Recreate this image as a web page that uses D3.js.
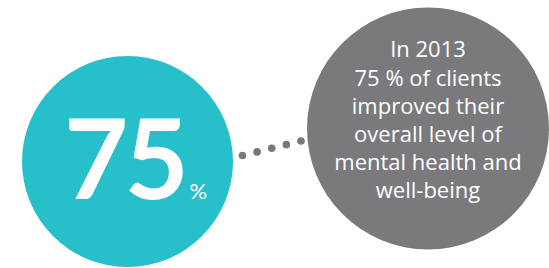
<!DOCTYPE html>
<html>
<head>
<meta charset="utf-8">
<script src="https://cdn.jsdelivr.net/npm/d3@7"></script>
<style>
  html, body { margin: 0; padding: 0; background: #ffffff; }
  svg { display: block; }
</style>
</head>
<body>
<svg id="chart" width="549" height="268"></svg>
<script>
// ---- data ----
const percentValue = [75];
const percentUnit = ["%"];
const statementLines = [
  "In 2013",
  "75 % of clients",
  "improved their",
  "overall level of",
  "mental health and",
  "well-being"
];
const connectorDots = [0, 1, 2, 3, 4];

// ---- layout ----
const svg = d3.select("#chart");
const font = "Lato, 'Open Sans', sans-serif";
const font2 = "'Open Sans', Lato, sans-serif";

const teal = "#26bfca";
const gray = "#7a7a7d";
const dotGray = "#78787b";

const bigCircle = { cx: 127.5, cy: 161.5, r: 105.5 };
const statCircle = { cx: 428, cy: 128.5, r: 121 };

svg.append("circle")
  .attr("cx", bigCircle.cx).attr("cy", bigCircle.cy).attr("r", bigCircle.r)
  .attr("fill", teal);

svg.append("circle")
  .attr("cx", statCircle.cx).attr("cy", statCircle.cy).attr("r", statCircle.r)
  .attr("fill", gray);

const dx = d3.scaleLinear().domain([0, connectorDots.length - 1]).range([242.5, 301]);
const dy = d3.scaleLinear().domain([0, connectorDots.length - 1]).range([155.5, 141]);
svg.selectAll("circle.dot").data(connectorDots).enter().append("circle")
  .attr("class", "dot")
  .attr("cx", d => dx(d)).attr("cy", d => dy(d)).attr("r", 3.8)
  .attr("fill", dotGray);

// big number
const big = svg.append("text")
  .attr("x", 64).attr("y", 199)
  .attr("font-family", font).attr("font-size", 111).attr("font-weight", 700)
  .attr("letter-spacing", -4)
  .attr("fill", "#ffffff")
  .text(percentValue[0]);
const bigW = big.node().getComputedTextLength();

svg.append("text")
  .attr("x", Math.max(189.5, 64 + bigW + 0.5)).attr("y", 199)
  .attr("font-family", font).attr("font-size", 22).attr("font-weight", 400)
  .attr("fill", "#ffffff")
  .text(percentUnit[0]);

// statement text
const lineY = d3.scaleLinear().domain([0, statementLines.length - 1]).range([57.3, 198.3]);
const stmt = svg.selectAll("text.stmt").data(statementLines).enter().append("text")
  .attr("class", "stmt")
  .attr("x", 428).attr("y", (d, i) => lineY(i))
  .attr("text-anchor", "middle")
  .attr("font-family", font2).attr("font-size", 20).attr("font-weight", 400)
  .attr("fill", "#ffffff")
  .text(d => d);
const w = stmt.filter((d, i) => i === 1).node().getComputedTextLength();
stmt.attr("font-size", 20 * 147 / w);
</script>
</body>
</html>
